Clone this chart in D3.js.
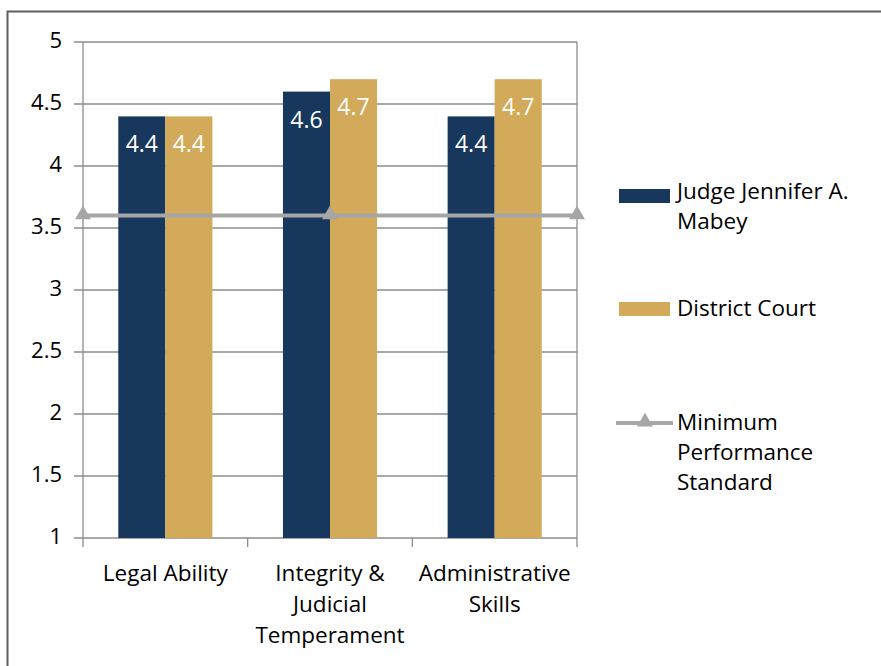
<!DOCTYPE html>
<head>
  <script src="https://cdnjs.cloudflare.com/ajax/libs/d3/7.8.5/d3.min.js"></script>
</head>
<style media="screen">
  body { margin: 0; background: #fff; }
  text { font-family: "Open Sans", sans-serif; }
  .grid line { stroke: #8c8c8c; stroke-width: 1.3px; }
</style>
<body>
<script type="text/javascript">
// data
var categories = [["Legal Ability"], ["Integrity &", "Judicial", "Temperament"], ["Administrative", "Skills"]];
var judgeScores = [4.4, 4.6, 4.4];
var courtScores = [4.4, 4.7, 4.7];
var minimumStandard = [3.6, 3.6, 3.6];
var yTicks = [1, 1.5, 2, 2.5, 3, 3.5, 4, 4.5, 5];
var seriesNames = [["Judge Jennifer A.", "Mabey"], ["District Court"], ["Minimum", "Performance", "Standard"]];

var navy = "#17375d", gold = "#d3a95a", grey = "#a6a6a6";

var margin = {top: 42, left: 83},
    width = 494,
    height = 496;

var svg = d3.select("body").append("svg")
    .attr("width", 881)
    .attr("height", 666);

// outer frame
svg.append("rect")
    .attr("x", 7.5).attr("y", 11.5)
    .attr("width", 900).attr("height", 700)
    .attr("fill", "none").attr("stroke", "#5f5f5f").attr("stroke-width", 2);

var g = svg.append("g")
    .attr("transform", "translate(" + margin.left + "," + margin.top + ")");

var keys = categories.map((d, i) => i);
var x = d3.scaleBand().domain(keys).range([0, width]);
var x1 = d3.scaleBand().domain([0, 1]).range([0, x.bandwidth()]).paddingInner(0).paddingOuter(0.75);
var xLine = d3.scalePoint().domain(keys).range([0, width]);
var y = d3.scaleLinear().domain([1, 5]).range([height, 0]);

// gridlines
g.append("g")
    .attr("class", "grid")
    .selectAll("line")
    .data(yTicks)
    .enter().append("line")
    .attr("x1", -9).attr("x2", width)
    .attr("y1", d => y(d)).attr("y2", d => y(d));

// y tick labels
g.append("g")
    .selectAll("text")
    .data(yTicks)
    .enter().append("text")
    .attr("x", -21)
    .attr("y", d => y(d))
    .attr("dy", "0.28em")
    .attr("text-anchor", "end")
    .style("font-size", "22px")
    .style("fill", "#000")
    .text(d => d);

// plot borders
g.append("line").attr("x1", 0).attr("x2", 0).attr("y1", 0).attr("y2", height + 9)
    .attr("stroke", "#8c8c8c").attr("stroke-width", 1.3);
g.append("line").attr("x1", width).attr("x2", width).attr("y1", 0).attr("y2", height + 9)
    .attr("stroke", "#8c8c8c").attr("stroke-width", 1.3);
g.selectAll(".xtick")
    .data([1, 2])
    .enter().append("line")
    .attr("x1", d => x(d)).attr("x2", d => x(d))
    .attr("y1", height).attr("y2", height + 9)
    .attr("stroke", "#8c8c8c").attr("stroke-width", 1.3);

// bars
var series = [judgeScores, courtScores];
var colors = [navy, gold];
series.forEach(function(vals, s) {
  g.append("g").selectAll("rect")
    .data(vals)
    .enter().append("rect")
    .attr("x", (d, i) => x(i) + x1(s))
    .attr("y", d => y(d))
    .attr("width", x1.bandwidth())
    .attr("height", d => height - y(d))
    .attr("fill", colors[s]);
});

// minimum line
g.append("path")
    .datum(minimumStandard)
    .attr("fill", "none")
    .attr("stroke", grey)
    .attr("stroke-width", 4)
    .attr("d", d3.line().x((d, i) => xLine(i)).y(d => y(d)));

var tri = d3.symbol().type(d3.symbolTriangle).size(110);
g.append("g").selectAll("path")
    .data(minimumStandard)
    .enter().append("path")
    .attr("d", tri)
    .attr("transform", (d, i) => "translate(" + xLine(i) + "," + (y(d) - 1) + ")")
    .attr("fill", grey);

// data labels
series.forEach(function(vals, s) {
  g.append("g").selectAll("text")
    .data(vals)
    .enter().append("text")
    .attr("x", (d, i) => x(i) + x1(s) + x1.bandwidth() / 2)
    .attr("y", d => y(d) + 36)
    .attr("text-anchor", "middle")
    .style("font-size", "23px")
    .style("fill", "#fff")
    .text(d => d);
});

// x labels
categories.forEach(function(lines, i) {
  var t = g.append("text")
    .attr("x", x(i) + x.bandwidth() / 2)
    .attr("y", height + 43)
    .attr("text-anchor", "middle")
    .style("font-size", "22.5px")
    .style("fill", "#000");
  lines.forEach(function(l, j) {
    t.append("tspan").attr("x", x(i) + x.bandwidth() / 2).attr("dy", j ? 31 : 0).text(l);
  });
});

// legend
var legend = svg.append("g").attr("transform", "translate(619,0)");
var swatchY = [196, 309, 423];
var legendY = [192, 309, 423];
[0, 1].forEach(function(s) {
  legend.append("rect")
    .attr("x", 0).attr("y", swatchY[s] - 7)
    .attr("width", 51).attr("height", 14)
    .attr("fill", colors[s]);
});
legend.append("line")
    .attr("x1", -3).attr("x2", 54)
    .attr("y1", swatchY[2]).attr("y2", swatchY[2])
    .attr("stroke", grey).attr("stroke-width", 4);
legend.append("path")
    .attr("d", tri)
    .attr("transform", "translate(26," + (swatchY[2] - 1) + ")")
    .attr("fill", grey);

var legendLineH = [30, 0, 30];
seriesNames.forEach(function(lines, s) {
  var t = legend.append("text")
    .attr("x", 58)
    .attr("y", legendY[s])
    .style("font-size", "22.5px")
    .style("fill", "#000");
  lines.forEach(function(l, j) {
    t.append("tspan").attr("x", 58).attr("dy", j ? legendLineH[s] : "0.32em").text(l);
  });
});
</script>
</body>
